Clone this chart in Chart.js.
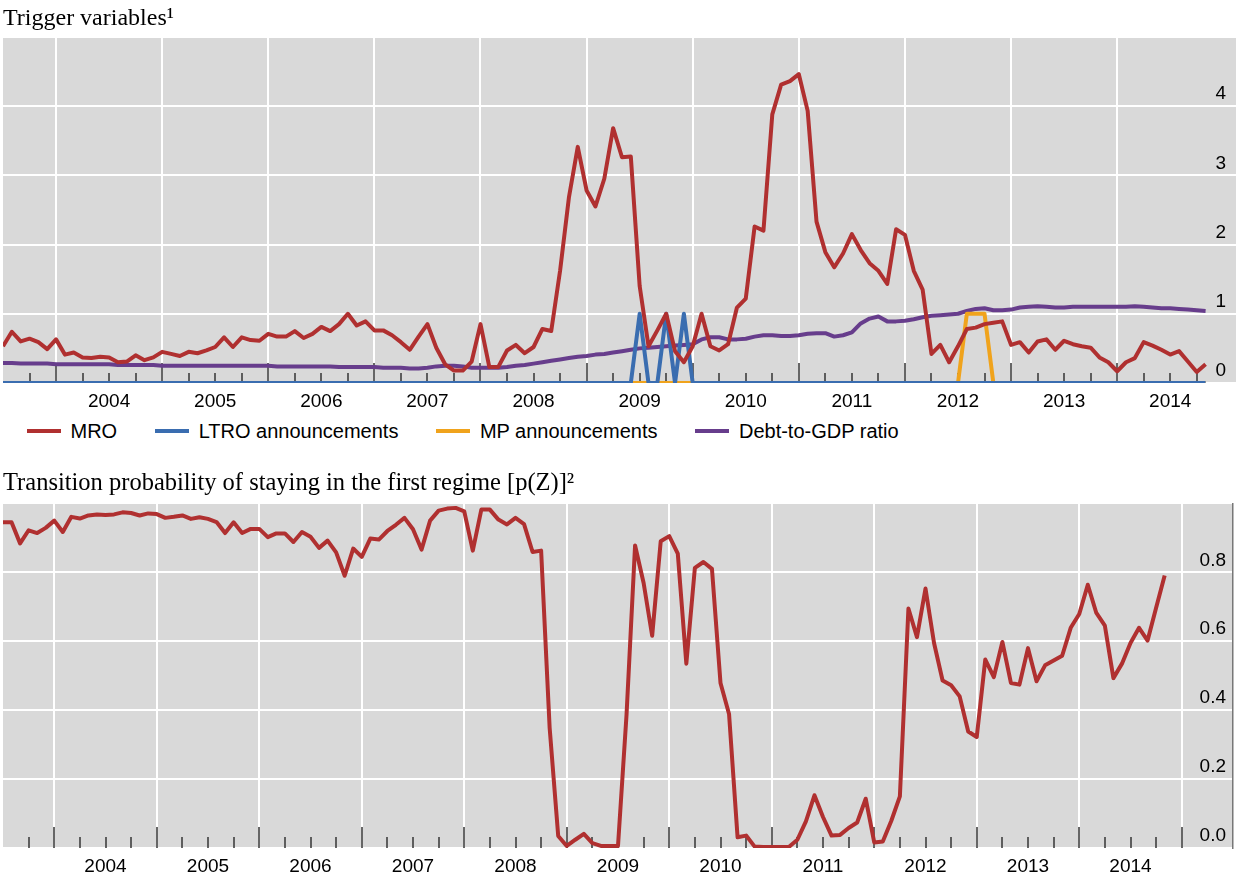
<!DOCTYPE html>
<html>
<head>
<meta charset="utf-8">
<title>Trigger variables and transition probability</title>
<script src="https://cdn.jsdelivr.net/npm/chart.js@4.4.1/dist/chart.umd.min.js"></script>
<style>
  html, body { margin: 0; padding: 0; background: #fff; }
  body { width: 1236px; height: 875px; position: relative; overflow: hidden; }
  #topWrap { position: absolute; left: 0; top: 0; width: 1236px; height: 420px; }
  #bottomWrap { position: absolute; left: 0; top: 460px; width: 1236px; height: 425px; }
  #legend { position: absolute; left: 27px; top: 420px; height: 22px; display: flex; align-items: center;
            font: 20px 'Liberation Sans', Arial, sans-serif; color: #000; white-space: nowrap; }
  #legend .item { display: flex; align-items: center; margin-right: 38px; }
  #legend .swatch { display: inline-block; width: 34px; height: 4px; margin-right: 9.5px; }
</style>
</head>
<body>
<div id="topWrap"><canvas id="topChart"></canvas></div>
<div id="legend"></div>
<div id="bottomWrap"><canvas id="bottomChart"></canvas></div>
<script>
// Monthly observations, July 2003 to November 2014
const firstMonth = 2003.5;   // July 2003, in fractional years

const yearLabels = ['2004', '2005', '2006', '2007', '2008', '2009', '2010', '2011', '2012', '2013', '2014'];
const topYLabels = ['0', '1', '2', '3', '4'];
const bottomYLabels = ['0.0', '0.2', '0.4', '0.6', '0.8'];

// Trigger variables (rows: Jul-Dec 2003, then one row per calendar year)
const mro = [
  0.53, 0.74, 0.60, 0.64, 0.59, 0.49,
  0.63, 0.41, 0.44, 0.37, 0.36, 0.38, 0.37, 0.30, 0.31, 0.40, 0.33, 0.37,
  0.45, 0.42, 0.39, 0.45, 0.43, 0.47, 0.52, 0.66, 0.52, 0.66, 0.62, 0.61,
  0.71, 0.67, 0.67, 0.75, 0.65, 0.71, 0.81, 0.75, 0.85, 1.00, 0.83, 0.89,
  0.76, 0.76, 0.69, 0.59, 0.48, 0.67, 0.85, 0.51, 0.27, 0.18, 0.18, 0.31,
  0.85, 0.23, 0.23, 0.47, 0.55, 0.43, 0.52, 0.78, 0.75, 1.62, 2.68, 3.41,
  2.78, 2.55, 2.95, 3.68, 3.26, 3.27, 1.40, 0.53, 0.76, 1.00, 0.46, 0.30,
  0.53, 1.00, 0.53, 0.47, 0.56, 1.09, 1.22, 2.26, 2.20, 3.88, 4.31, 4.36,
  4.46, 3.93, 2.33, 1.89, 1.67, 1.87, 2.15, 1.92, 1.73, 1.62, 1.43, 2.22,
  2.14, 1.62, 1.35, 0.42, 0.55, 0.30, 0.53, 0.78, 0.80, 0.85, 0.87, 0.89,
  0.55, 0.59, 0.44, 0.60, 0.63, 0.48, 0.61, 0.56, 0.53, 0.51, 0.37, 0.30,
  0.17, 0.30, 0.36, 0.59, 0.54, 0.48, 0.41, 0.46, 0.31, 0.16, 0.27
];

const ltro = [
  0, 0, 0, 0, 0, 0,
  0, 0, 0, 0, 0, 0, 0, 0, 0, 0, 0, 0,
  0, 0, 0, 0, 0, 0, 0, 0, 0, 0, 0, 0,
  0, 0, 0, 0, 0, 0, 0, 0, 0, 0, 0, 0,
  0, 0, 0, 0, 0, 0, 0, 0, 0, 0, 0, 0,
  0, 0, 0, 0, 0, 0, 0, 0, 0, 0, 0, 0,
  0, 0, 0, 0, 0, 0, 1, 0, 0, 1, 0, 1,
  0, 0, 0, 0, 0, 0, 0, 0, 0, 0, 0, 0,
  0, 0, 0, 0, 0, 0, 0, 0, 0, 0, 0, 0,
  0, 0, 0, 0, 0, 0, 0, 0, 0, 0, 0, 0,
  0, 0, 0, 0, 0, 0, 0, 0, 0, 0, 0, 0,
  0, 0, 0, 0, 0, 0, 0, 0, 0, 0, 0
];

const mp = [
  0, 0, 0, 0, 0, 0,
  0, 0, 0, 0, 0, 0, 0, 0, 0, 0, 0, 0,
  0, 0, 0, 0, 0, 0, 0, 0, 0, 0, 0, 0,
  0, 0, 0, 0, 0, 0, 0, 0, 0, 0, 0, 0,
  0, 0, 0, 0, 0, 0, 0, 0, 0, 0, 0, 0,
  0, 0, 0, 0, 0, 0, 0, 0, 0, 0, 0, 0,
  0, 0, 0, 0, 0, 0, 0, 0, 0, 0, 0, 0,
  0, 0, 0, 0, 0, 0, 0, 0, 0, 0, 0, 0,
  0, 0, 0, 0, 0, 0, 0, 0, 0, 0, 0, 0,
  0, 0, 0, 0, 0, 0, 0, 1, 1, 1, 0, 0,
  0, 0, 0, 0, 0, 0, 0, 0, 0, 0, 0, 0,
  0, 0, 0, 0, 0, 0, 0, 0, 0, 0, 0
];

const debtToGdp = [
  0.29, 0.29, 0.28, 0.28, 0.28, 0.28,
  0.27, 0.27, 0.27, 0.27, 0.27, 0.27, 0.27, 0.26, 0.26, 0.26, 0.26, 0.26,
  0.25, 0.25, 0.25, 0.25, 0.25, 0.25, 0.25, 0.25, 0.25, 0.25, 0.25, 0.25,
  0.25, 0.24, 0.24, 0.24, 0.24, 0.24, 0.24, 0.24, 0.23, 0.23, 0.23, 0.23,
  0.23, 0.22, 0.22, 0.22, 0.21, 0.21, 0.22, 0.24, 0.25, 0.25, 0.24, 0.22,
  0.22, 0.22, 0.22, 0.23, 0.25, 0.26, 0.28, 0.30, 0.32, 0.34, 0.36, 0.38,
  0.39, 0.41, 0.42, 0.44, 0.46, 0.48, 0.50, 0.51, 0.52, 0.53, 0.54, 0.55,
  0.56, 0.63, 0.66, 0.66, 0.63, 0.63, 0.64, 0.67, 0.69, 0.69, 0.68, 0.68,
  0.69, 0.71, 0.72, 0.72, 0.67, 0.69, 0.73, 0.86, 0.93, 0.96, 0.89, 0.89,
  0.90, 0.92, 0.95, 0.97, 0.98, 0.99, 1.00, 1.04, 1.07, 1.08, 1.05, 1.05,
  1.06, 1.09, 1.10, 1.11, 1.10, 1.09, 1.09, 1.10, 1.10, 1.10, 1.10, 1.10,
  1.10, 1.10, 1.11, 1.10, 1.09, 1.08, 1.08, 1.07, 1.06, 1.05, 1.04
];

// Transition probability of staying in the first regime
const pStay = [
  0.945, 0.945, 0.884, 0.922, 0.914, 0.929,
  0.950, 0.917, 0.961, 0.956, 0.965, 0.968, 0.966, 0.968, 0.974, 0.972, 0.965, 0.971,
  0.969, 0.958, 0.961, 0.965, 0.955, 0.960, 0.955, 0.946, 0.914, 0.945, 0.914, 0.926,
  0.926, 0.902, 0.913, 0.913, 0.888, 0.917, 0.903, 0.871, 0.892, 0.858, 0.790, 0.869,
  0.845, 0.898, 0.895, 0.920, 0.938, 0.958, 0.925, 0.866, 0.950, 0.979, 0.985, 0.987,
  0.977, 0.863, 0.982, 0.982, 0.953, 0.939, 0.958, 0.940, 0.859, 0.863, 0.348, 0.035,
  0.006, 0.024, 0.041, 0.014, 0.006, 0.006, 0.006, 0.387, 0.878, 0.769, 0.616, 0.890,
  0.905, 0.854, 0.535, 0.813, 0.830, 0.810, 0.479, 0.389, 0.031, 0.036, 0.004, 0.003,
  0.003, 0.003, 0.003, 0.024, 0.077, 0.153, 0.090, 0.036, 0.038, 0.058, 0.074, 0.143,
  0.016, 0.019, 0.079, 0.150, 0.695, 0.612, 0.753, 0.595, 0.486, 0.472, 0.440, 0.338,
  0.322, 0.547, 0.496, 0.598, 0.479, 0.474, 0.580, 0.484, 0.530, 0.544, 0.558, 0.639,
  0.679, 0.764, 0.682, 0.645, 0.493, 0.535, 0.595, 0.639, 0.602, 0.697, 0.791
];

const RED = '#b03030';
const BLUE = '#3a6db0';
const ORANGE = '#f0a31c';
const PURPLE = '#673d8c';
const PLOT_BG = '#d9d9d9';
const tickFont = { family: "'Liberation Sans', Arial, sans-serif", size: 19, lineHeight: 1 };

function toPoints(values) {
  return values.map((v, i) => ({ x: firstMonth + i / 12, y: v }));
}

function isYearStart(v) {
  return Math.abs(v - Math.round(v)) < 1e-6;
}

// grey plotting area
const plotBackground = {
  id: 'plotBackground',
  beforeDraw(chart, args, opts) {
    const { ctx, chartArea: a } = chart;
    ctx.save();
    ctx.fillStyle = opts.color;
    ctx.fillRect(a.left, a.top, a.right - a.left, a.bottom - a.top);
    ctx.restore();
  }
};

// quarterly tick marks drawn upwards inside the plot, long ones at year starts
const insideTicks = {
  id: 'insideTicks',
  beforeDatasetsDraw(chart, args, opts) {
    const { ctx, chartArea, scales: { x } } = chart;
    ctx.save();
    ctx.strokeStyle = opts.color;
    ctx.lineWidth = opts.width;
    x.ticks.forEach(t => {
      const px = Math.round(x.getPixelForValue(t.value));
      const len = isYearStart(t.value) ? opts.major : opts.minor;
      ctx.beginPath();
      ctx.moveTo(px, chartArea.bottom);
      ctx.lineTo(px, chartArea.bottom - len);
      ctx.stroke();
    });
    ctx.restore();
  }
};

function panelOptions(cfg) {
  return {
    responsive: true,
    maintainAspectRatio: false,
    animation: false,
    events: [],
    layout: { padding: { left: 3, right: cfg.rightPad, top: 0, bottom: 0 } },
    plugins: {
      legend: { display: false },
      tooltip: { enabled: false },
      title: {
        display: true,
        text: cfg.title,
        align: 'start',
        color: '#000',
        font: { family: "'Liberation Serif', 'Times New Roman', serif", size: cfg.titleSize, weight: 'normal' },
        padding: cfg.titlePadding
      },
      plotBackground: { color: PLOT_BG },
      insideTicks: { color: '#333', width: 1.5, major: cfg.major, minor: cfg.minor }
    },
    scales: {
      x: {
        type: 'linear',
        min: firstMonth,
        max: cfg.xMax,
        afterBuildTicks(scale) {
          const ticks = [];
          for (let q = 8015; q <= cfg.lastTick * 4; q++) ticks.push({ value: q / 4 });
          scale.ticks = ticks;
        },
        border: { display: false },
        grid: {
          drawTicks: false,
          tickLength: 0,
          lineWidth: 2,
          color: c => (c.tick && isYearStart(c.tick.value)) ? '#ffffff' : 'rgba(0,0,0,0)'
        },
        ticks: {
          autoSkip: false,
          maxRotation: 0,
          minRotation: 0,
          padding: 9,
          color: '#000',
          font: tickFont,
          callback: v => {
            if (Math.abs(v - Math.floor(v) - 0.5) > 1e-6) return '';
            const lbl = String(Math.floor(v));
            return yearLabels.includes(lbl) ? lbl : '';
          }
        }
      },
      y: {
        position: 'right',
        min: 0,
        max: cfg.yMax,
        border: cfg.yBorder,
        afterFit(scale) { scale.width = 0; },
        grid: { drawTicks: false, tickLength: 0, lineWidth: 2, color: '#ffffff' },
        ticks: {
          stepSize: cfg.yStep,
          mirror: true,
          padding: cfg.labelPad,
          labelOffset: -12,
          color: '#000',
          font: tickFont,
          callback: (v, i) => cfg.yLabels[i] !== undefined ? cfg.yLabels[i] : ''
        }
      }
    }
  };
}

function lineDataset(label, values, color, extra) {
  return Object.assign({
    label: label,
    data: toPoints(values),
    borderColor: color,
    backgroundColor: color,
    borderWidth: 4,
    borderJoinStyle: 'round',
    pointRadius: 0,
    tension: 0
  }, extra || {});
}

const topChart = new Chart(document.getElementById('topChart'), {
  type: 'line',
  data: {
    datasets: [
      lineDataset('MRO', mro, RED, { clip: 0 }),
      lineDataset('LTRO announcements', ltro, BLUE, { clip: 0 }),
      lineDataset('MP announcements', mp, ORANGE, { clip: 0 }),
      lineDataset('Debt-to-GDP ratio', debtToGdp, PURPLE, { clip: 0 })
    ]
  },
  options: panelOptions({
    title: 'Trigger variables\u00B9',
    titleSize: 24,
    titlePadding: { top: 4, bottom: 4 },
    rightPad: 0,
    xMax: 2015.12,
    lastTick: 2014.75,
    yMax: 5,
    yStep: 1,
    yLabels: topYLabels,
    labelPad: -10,
    yBorder: { display: false },
    major: 20,
    minor: 10
  }),
  plugins: [plotBackground, insideTicks]
});

const bottomChart = new Chart(document.getElementById('bottomChart'), {
  type: 'line',
  data: {
    datasets: [
      lineDataset('p(Z)', pStay, RED)
    ]
  },
  options: panelOptions({
    title: 'Transition probability of staying in the first regime [p(Z)]\u00B2',
    titleSize: 24.5,
    titlePadding: { top: 9, bottom: 5 },
    rightPad: 3,
    xMax: 2015.5,
    lastTick: 2015,
    yMax: 1,
    yStep: 0.2,
    yLabels: bottomYLabels,
    labelPad: -7,
    yBorder: { display: true, color: '#777', width: 1.5 },
    major: 21,
    minor: 11
  }),
  plugins: [plotBackground, insideTicks]
});

// legend for the upper panel, built from its datasets
const legendEl = document.getElementById('legend');
topChart.data.datasets.forEach(ds => {
  const item = document.createElement('span');
  item.className = 'item';
  const sw = document.createElement('span');
  sw.className = 'swatch';
  sw.style.background = ds.borderColor;
  const tx = document.createElement('span');
  tx.textContent = ds.label;
  item.append(sw, tx);
  legendEl.append(item);
});
</script>
</body>
</html>
